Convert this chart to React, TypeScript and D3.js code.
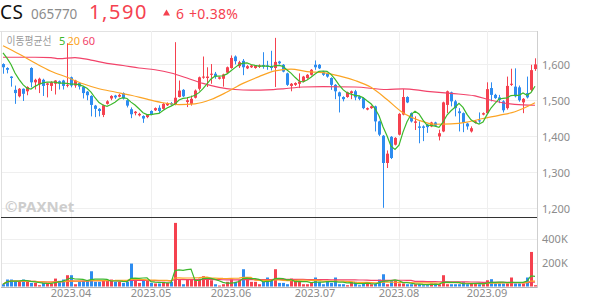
import React from 'react';
import * as d3 from 'd3';

const W = 594;
const H = 304;

// ---- data ----
const opens = [
  1601, 1590, 1566, 1529, 1511, 1532, 1525, 1590, 1550, 1545, 1557, 1543, 1540, 1546, 1553, 1555, 1541, 1564, 1541, 1548,
  1537, 1524, 1512, 1485, 1476, 1459, 1490, 1505, 1513, 1510, 1520, 1500, 1475, 1464, 1458, 1456, 1453, 1470, 1472, 1479,
  1476, 1486, 1492, 1488, 1509, 1529, 1495, 1490, 1507, 1532, 1563, 1562, 1571, 1574, 1560, 1560, 1577, 1590, 1622, 1595,
  1610, 1589, 1592, 1590, 1593, 1598, 1597, 1595, 1590, 1608, 1599, 1575, 1540, 1543, 1546, 1552, 1562, 1571, 1599, 1599,
  1580, 1575, 1562, 1543, 1522, 1509, 1509, 1520, 1525, 1511, 1506, 1474, 1478, 1483, 1441, 1401, 1325, 1398, 1376, 1404,
  1460, 1509, 1464, 1437, 1427, 1427, 1432, 1427, 1438, 1399, 1413, 1487, 1522, 1497, 1469, 1464, 1435, 1413, 1437, 1444,
  1460, 1464, 1534, 1515, 1508, 1497, 1478, 1543, 1538, 1536, 1494, 1520, 1529, 1587,
];
const highs = [
  1603, 1592, 1567, 1541, 1534, 1533, 1539, 1592, 1560, 1563, 1560, 1549, 1553, 1556, 1555, 1557, 1659, 1566, 1557, 1550,
  1540, 1526, 1514, 1487, 1478, 1488, 1500, 1514, 1515, 1518, 1522, 1502, 1480, 1470, 1465, 1458, 1461, 1472, 1480, 1486,
  1492, 1494, 1495, 1662, 1555, 1531, 1509, 1513, 1530, 1566, 1622, 1592, 1601, 1579, 1566, 1574, 1594, 1625, 1625, 1610,
  1615, 1598, 1599, 1598, 1600, 1634, 1610, 1638, 1674, 1610, 1601, 1577, 1548, 1550, 1575, 1568, 1573, 1587, 1611, 1601,
  1582, 1577, 1564, 1545, 1524, 1511, 1524, 1527, 1529, 1513, 1508, 1480, 1485, 1485, 1443, 1403, 1360, 1400, 1397, 1464,
  1531, 1511, 1466, 1455, 1441, 1430, 1434, 1440, 1440, 1418, 1496, 1527, 1524, 1501, 1478, 1466, 1437, 1427, 1444, 1466,
  1466, 1550, 1550, 1518, 1515, 1500, 1566, 1588, 1589, 1541, 1506, 1566, 1599, 1617,
];
const lows = [
  1574, 1575, 1538, 1490, 1508, 1498, 1514, 1536, 1530, 1520, 1512, 1508, 1526, 1516, 1530, 1530, 1536, 1536, 1535, 1530,
  1505, 1500, 1455, 1453, 1455, 1453, 1488, 1500, 1504, 1508, 1502, 1480, 1450, 1458, 1455, 1437, 1450, 1458, 1470, 1464,
  1474, 1484, 1485, 1486, 1508, 1509, 1481, 1485, 1505, 1527, 1560, 1537, 1546, 1560, 1558, 1538, 1575, 1588, 1600, 1590,
  1570, 1587, 1590, 1588, 1590, 1588, 1585, 1583, 1537, 1600, 1578, 1540, 1525, 1540, 1534, 1550, 1560, 1569, 1585, 1587,
  1568, 1563, 1529, 1503, 1466, 1497, 1507, 1503, 1500, 1500, 1475, 1472, 1476, 1413, 1400, 1200, 1311, 1336, 1374, 1402,
  1458, 1492, 1438, 1417, 1380, 1386, 1409, 1425, 1427, 1388, 1411, 1464, 1483, 1455, 1413, 1411, 1418, 1410, 1435, 1437,
  1458, 1462, 1497, 1504, 1492, 1466, 1474, 1540, 1508, 1496, 1464, 1505, 1526, 1582,
];
const closes = [
  1592, 1585, 1562, 1520, 1532, 1518, 1537, 1550, 1557, 1560, 1540, 1547, 1550, 1555, 1547, 1540, 1543, 1541, 1555, 1538,
  1520, 1514, 1487, 1476, 1470, 1486, 1497, 1512, 1508, 1515, 1505, 1485, 1461, 1468, 1462, 1449, 1459, 1461, 1478, 1470,
  1490, 1492, 1488, 1507, 1527, 1511, 1500, 1504, 1527, 1564, 1566, 1566, 1574, 1566, 1564, 1572, 1592, 1618, 1609, 1606,
  1592, 1595, 1597, 1596, 1597, 1594, 1593, 1590, 1607, 1603, 1580, 1543, 1546, 1548, 1552, 1566, 1571, 1585, 1592, 1589,
  1571, 1566, 1543, 1525, 1511, 1503, 1522, 1525, 1508, 1504, 1478, 1478, 1483, 1441, 1404, 1325, 1351, 1339, 1395, 1462,
  1509, 1494, 1441, 1441, 1423, 1423, 1425, 1438, 1429, 1408, 1494, 1525, 1497, 1478, 1464, 1437, 1427, 1422, 1441, 1441,
  1464, 1531, 1515, 1506, 1501, 1472, 1540, 1546, 1511, 1500, 1504, 1508, 1584, 1600,
];
// thousands of shares
const volumes = [
  19, 58, 58, 47, 39, 58, 39, 30, 30, 11, 30, 30, 25, 66, 47, 58, 94, 94, 19, 39,
  47, 52, 127, 39, 39, 47, 47, 58, 39, 39, 30, 39, 191, 47, 30, 47, 47, 30, 25, 25,
  39, 30, 39, 530, 58, 19, 58, 58, 58, 66, 86, 75, 52, 19, 8, 19, 39, 58, 39, 52,
  144, 58, 39, 39, 19, 39, 75, 52, 144, 30, 30, 19, 66, 58, 39, 19, 19, 30, 75, 39,
  19, 39, 30, 75, 19, 19, 11, 39, 39, 11, 25, 25, 19, 25, 58, 102, 19, 47, 47, 25,
  25, 19, 19, 19, 19, 11, 11, 25, 25, 19, 94, 19, 19, 19, 19, 39, 19, 25, 25, 19,
  19, 52, 61, 25, 25, 25, 25, 75, 25, 25, 25, 75, 288, 11,
];
const priorCloses = [1660, 1650, 1640, 1620];

const ma20Idx = [0, 4, 8, 12, 16, 20, 24, 28, 32, 36, 40, 44, 48, 52, 56, 60, 64, 68, 72, 76, 80, 84, 88, 92, 96, 100, 104, 108, 112, 116, 120, 124, 128, 133];
const ma20Val = [1652, 1629, 1604, 1581, 1564, 1546, 1532, 1523, 1514, 1503, 1493, 1488, 1490, 1502, 1523, 1547, 1566, 1582, 1587, 1580, 1577, 1568, 1555, 1536, 1502, 1465, 1444, 1433, 1434, 1439, 1449, 1458, 1468, 1493];
const ma60Idx = [0, 8, 12, 14, 18, 22, 26, 30, 34, 38, 42, 46, 50, 54, 58, 62, 66, 70, 75, 80, 88, 96, 100, 106, 112, 118, 122, 126, 130, 133];
const ma60Val = [1620, 1620, 1619, 1616, 1619, 1612, 1603, 1597, 1590, 1585, 1576, 1562, 1547, 1536, 1530, 1528, 1529, 1532, 1537, 1538, 1537, 1530, 1532, 1525, 1519, 1512, 1500, 1491, 1487, 1486];

const monthTickIdx = [17, 37, 57, 78, 99, 121];
const monthTickLabels = ['2023.04', '2023.05', '2023.06', '2023.07', '2023.08', '2023.09'];
const priceTicks = [1200, 1300, 1400, 1500, 1600];
const volumeTicks = [200, 400];
const volumeTickLabels = ['200K', '400K'];

// ---- style ----
const UP = '#f5414f';
const DOWN = '#2d8cf0';
const C5 = '#3cb82c';
const C20 = '#fca424';
const C60 = '#f2436a';
const FONT = "'Noto Sans', 'Noto Sans CJK KR', sans-serif";

function movingAvg(arr: number[], n: number, prior: number[] = []) {
  const all = prior.concat(arr);
  const off = prior.length;
  return arr.map((_, i) => {
    const end = i + off;
    const start = Math.max(0, end - n + 1);
    const s = all.slice(start, end + 1);
    return d3.mean(s) as number;
  });
}

export default function App() {
  const left = 2;
  const right = 537;
  const top = 31;
  const sep = 217;
  const bottom = 287;

  const x = d3.scaleLinear().domain([0, closes.length - 1]).range([3, 535]);
  const y = d3.scaleLinear().domain([1200, 1600]).range([207.8, 64.4]);
  const yv = d3.scaleLinear().domain([0, 400]).range([286.5, 238.5]);

  const ma5 = movingAvg(closes, 5, priorCloses);
  const line = d3.line<[number, number]>().x((d) => d[0]).y((d) => d[1]);
  const smooth = d3.line<[number, number]>().x((d) => d[0]).y((d) => d[1]).curve(d3.curveMonotoneX);

  const ma5Path = line(ma5.map((v, i) => [x(i), y(v)]));
  const ma20Path = smooth(ma20Idx.map((i, k) => [x(i), y(ma20Val[k])]));
  const ma60Path = smooth(ma60Idx.map((i, k) => [x(i), y(ma60Val[k])]));

  const vma5 = movingAvg(volumes, 5);
  const vma20 = movingAvg(volumes, 20);
  const vma60 = movingAvg(volumes, 60);
  const vPath = (arr: number[]) => line(arr.map((v, i) => [x(i), yv(v)]));

  const crisp = (v: number) => Math.round(v) + 0.5;

  return (
    <svg width={W} height={H} style={{ position: 'absolute', left: 0, top: 0, background: '#fff' }} fontFamily={FONT}>
      {/* header */}
      <text x={0} y={18.5} fontSize={19} fill="#111" letterSpacing={0.5}>CS</text>
      <text x={31} y={18.5} fontSize={13.5} fill="#8c8c8c">065770</text>
      <text x={89} y={19} fontSize={20} fill={UP} letterSpacing={1.6}>1,590</text>
      <path d="M163,15.5 L166.5,9.5 L170,15.5 Z" fill={UP} />
      <text x={176} y={18.5} fontSize={14} fill={UP}>6</text>
      <text x={189} y={18.5} fontSize={14} fill={UP} letterSpacing={0.3}>+0.38%</text>

      {/* frame & grid */}
      <line x1={0} x2={right} y1={crisp(top)} y2={crisp(top)} stroke="#e2e2e2" />
      {priceTicks.map((t) => (
        <line key={t} x1={left} x2={right} y1={crisp(y(t))} y2={crisp(y(t))} stroke="#efefef" />
      ))}
      {volumeTicks.map((t) => (
        <line key={t} x1={left} x2={right} y1={crisp(yv(t))} y2={crisp(yv(t))} stroke="#efefef" />
      ))}
      {monthTickIdx.map((i) => (
        <line key={i} x1={crisp(x(i))} x2={crisp(x(i))} y1={top} y2={bottom} stroke="#efefef" />
      ))}
      <line x1={crisp(left - 1)} x2={crisp(left - 1)} y1={top} y2={bottom} stroke="#e0e0e0" />
      <line x1={crisp(right)} x2={crisp(right)} y1={top} y2={bottom + 1} stroke="#cfcfcf" />

      {/* watermark */}
      <text x={5} y={212} fontSize={15} fontWeight={700} fill="#cdcdcd">©PAXNet</text>

      {/* candles */}
      {closes.map((c, i) => {
        const o = opens[i];
        const up = c >= o;
        const col = up ? UP : DOWN;
        const cx = Math.round(x(i));
        const yt = y(Math.max(o, c));
        const yb = y(Math.min(o, c));
        return (
          <g key={i}>
            <rect x={cx} y={y(highs[i])} width={1} height={Math.max(1, y(lows[i]) - y(highs[i]))} fill={col} />
            <rect x={cx - 1} y={yt} width={3} height={Math.max(1, yb - yt)} fill={col} />
          </g>
        );
      })}

      {/* price MAs */}
      <path d={ma60Path || ''} fill="none" stroke={C60} strokeWidth={1.2} />
      <path d={ma20Path || ''} fill="none" stroke={C20} strokeWidth={1.2} />
      <path d={ma5Path || ''} fill="none" stroke={C5} strokeWidth={1.2} />

      {/* legend */}
      <text x={6.5} y={44.5} fontSize={11} fill="#9a9a9a" textLength={45} lengthAdjust="spacingAndGlyphs">이동평균선</text>
      <text x={59} y={44.5} fontSize={11} fill={C5}>5</text>
      <text x={67.5} y={44.5} fontSize={11} fill={C20}>20</text>
      <text x={82.5} y={44.5} fontSize={11} fill={C60}>60</text>

      {/* separator */}
      <line x1={left - 1} x2={right} y1={crisp(sep)} y2={crisp(sep)} stroke="#333" />

      {/* volume */}
      {volumes.map((v, i) => {
        const col = closes[i] >= opens[i] ? UP : DOWN;
        const cx = Math.round(x(i));
        return <rect key={i} x={cx - 1} y={yv(v)} width={3} height={yv(0) - yv(v)} fill={col} />;
      })}
      <path d={vPath(vma60) || ''} fill="none" stroke={C60} strokeWidth={1.2} />
      <path d={vPath(vma20) || ''} fill="none" stroke={C20} strokeWidth={1.2} />
      <path d={vPath(vma5) || ''} fill="none" stroke={C5} strokeWidth={1.2} />

      <line x1={left - 1} x2={right} y1={crisp(bottom)} y2={crisp(bottom)} stroke="#b4b4b4" />

      {/* axes labels */}
      {priceTicks.map((t) => (
        <text key={t} x={542} y={y(t) + 5} fontSize={11} fill="#8c8c8c">{d3.format(',')(t)}</text>
      ))}
      {volumeTicks.map((t, k) => (
        <text key={t} x={542} y={yv(t) + 4.5} fontSize={11} fill="#8c8c8c">{volumeTickLabels[k]}</text>
      ))}
      {monthTickIdx.map((i, k) => (
        <text key={i} x={x(i)} y={297} fontSize={11} fill="#8c8c8c" textAnchor="middle">{monthTickLabels[k]}</text>
      ))}
    </svg>
  );
}
